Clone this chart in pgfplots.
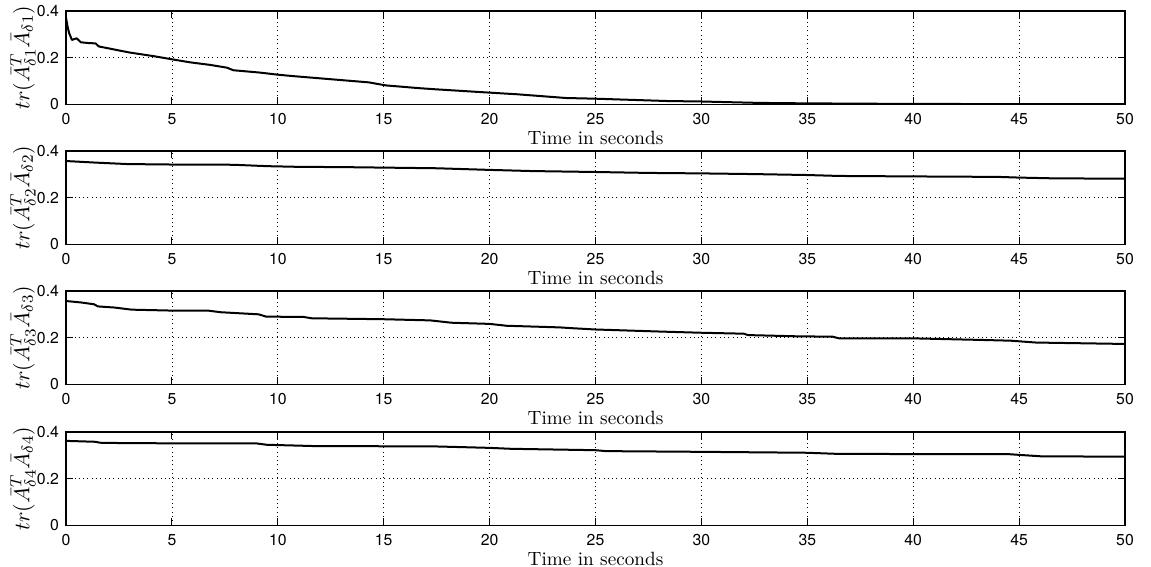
\documentclass[border=0pt]{standalone}
\usepackage{pgfplots}
\pgfplotsset{compat=1.18}
\usepackage{fontspec}
\newfontfamily\heros{TeX Gyre Heros}
\begin{document}
\begin{tikzpicture}
\pgfplotsset{myax/.style={
  width=529.5pt, height=46.65pt, scale only axis,
  xmin=0, xmax=50, ymin=0, ymax=0.4,
  xtick={0,5,...,50}, ytick={0,0.2,0.4},
  grid=major, grid style={black, line width=0.35pt, dash pattern=on 0.35pt off 1.8pt},
  tick align=inside, tick pos=both, major tick length=3.5pt,
  axis line style={black, line width=0.65pt},
  tick style={black, line width=0.5pt},
  /pgf/number format/assume math mode=true,
  ticklabel style={font=\heros\fontsize{7.9}{8}\selectfont},
  xticklabel style={yshift=-1pt},
  xlabel={Time in seconds},
  xlabel style={font=\fontsize{9.6}{11}\selectfont, at={(axis description cs:0.5,-0.279)}, anchor=north, inner sep=0pt},
  ylabel style={font=\fontsize{10.8}{12}\selectfont, at={(axis description cs:-0.0406,0.5)}, anchor=center, inner sep=0pt},
  anchor=north west,
}, curve/.style={black, no markers, line width=1pt, line join=round}}
\useasboundingbox (-33pt,5.5pt) rectangle (542.5pt,-278pt);

\begin{axis}[myax, at={(0,0)}, ylabel={$tr(\bar{A}_{\delta1}^T\bar{A}_{\delta1})$}]
\addplot[curve] coordinates {(0,0.372) (0.08,0.33) (0.15,0.305) (0.28,0.276) (0.4,0.28) (0.5,0.283) (0.7,0.266) (1.0,0.263) (1.4,0.261) (1.55,0.248) (3.0,0.222) (4.1,0.207) (5,0.193) (5.85,0.18) (6.8,0.169) (7.6,0.157) (7.9,0.146) (9.15,0.136) (10,0.127) (10.7,0.121) (12.3,0.109) (14.3,0.094) (15.1,0.081) (16.7,0.069) (17.5,0.064) (20,0.05) (21.3,0.043) (23.6,0.027) (25,0.024) (28.4,0.014) (30,0.012) (32.7,0.006) (35,0.004) (40,0.0015) (45,0.001) (50,0.0005)};
\end{axis}

\begin{axis}[myax, at={(0,-70pt)}, ylabel={$tr(\bar{A}_{\delta2}^T\bar{A}_{\delta2})$}]
\addplot[curve] coordinates {(0,0.357) (1.45,0.35) (2.9,0.344) (5,0.342) (7.9,0.341) (9.5,0.335) (11,0.332) (13,0.331) (17.5,0.326) (20,0.319) (22,0.314) (25,0.31) (27.5,0.306) (30,0.304) (32.5,0.301) (35,0.297) (36.5,0.293) (40,0.291) (44,0.289) (45,0.286) (46.5,0.283) (50,0.281)};
\end{axis}

\begin{axis}[myax, at={(0,-140pt)}, ylabel={$tr(\bar{A}_{\delta3}^T\bar{A}_{\delta3})$}]
\addplot[curve] coordinates {(0,0.357) (0.7,0.351) (1.33,0.343) (1.5,0.334) (2.3,0.329) (3.1,0.32) (5,0.316) (6.7,0.316) (7.3,0.309) (9.1,0.3) (9.45,0.29) (11.2,0.289) (11.6,0.283) (15,0.279) (17.2,0.274) (18.2,0.264) (20,0.259) (20.8,0.251) (23.3,0.244) (24,0.24) (25,0.235) (28.1,0.226) (30,0.221) (32,0.217) (32.2,0.211) (34.4,0.206) (36.2,0.204) (36.5,0.197) (40,0.197) (43.3,0.19) (44.6,0.187) (45.8,0.179) (50,0.173)};
\end{axis}

\begin{axis}[myax, at={(0,-210.5pt)}, ylabel={$tr(\bar{A}_{\delta4}^T\bar{A}_{\delta4})$}]
\addplot[curve] coordinates {(0,0.362) (1.4,0.358) (1.6,0.354) (3,0.352) (9,0.351) (9.5,0.345) (10,0.344) (11.6,0.34) (17.5,0.338) (20,0.332) (21,0.328) (25,0.322) (25.5,0.318) (30,0.315) (35,0.311) (36.5,0.306) (44.5,0.305) (46,0.296) (50,0.294)};
\end{axis}
\end{tikzpicture}
\end{document}
